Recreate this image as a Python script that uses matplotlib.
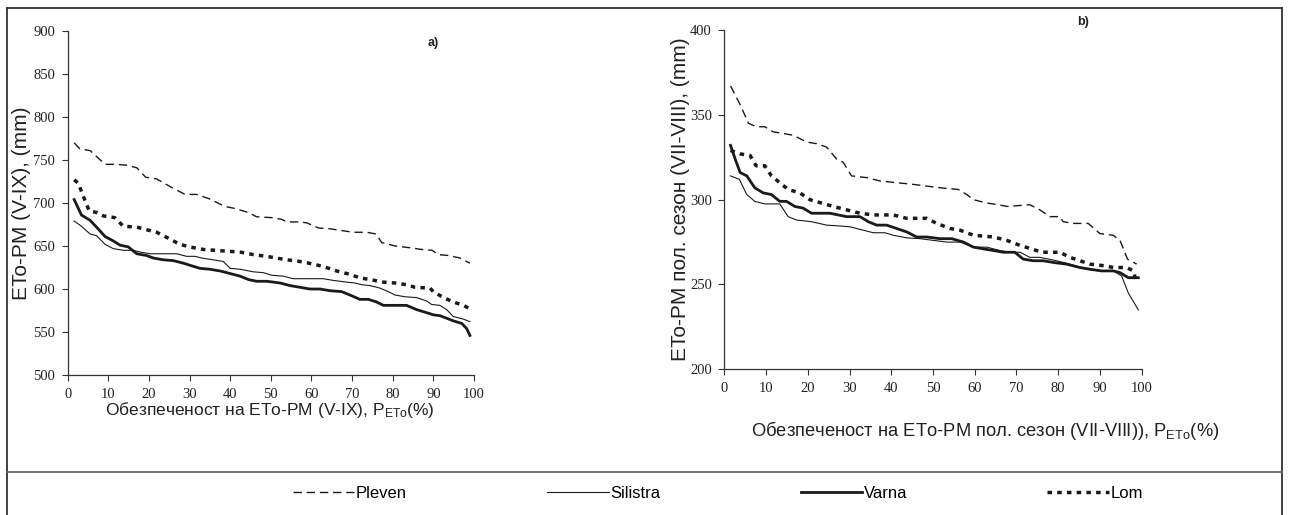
import matplotlib
matplotlib.use("Agg")
import matplotlib.pyplot as plt
from matplotlib.lines import Line2D

# ---- data (x = P_ETo %, y = ETo-PM mm) ----
# panel a) V-IX
a_pleven_x = [1.6, 3, 5.5, 9.2, 11.6, 14.5, 17, 19.2, 21.9, 26, 28.9, 31.7, 34.8, 38.7, 40.8, 44.5,
              46.5, 50.2, 52.7, 53.9, 57.2, 58.8, 61.7, 64.6, 67.4, 70.3, 73.6, 75.9, 77.3, 80.6,
              84.2, 87.1, 89.7, 91.2, 93.7, 96.6, 99]
a_pleven_y = [770, 763, 761, 745, 745, 744, 741, 730, 728, 717, 710, 710, 705, 696, 694, 689,
              684, 683, 681, 678, 678, 677, 671, 670, 668, 666, 666, 664, 654, 650,
              648, 646, 645, 640, 639, 636, 630]

a_silistra_x = [1.6, 3.4, 5.5, 7.1, 9.2, 11.2, 13.7, 16.2, 17.8, 20.3, 23.5, 26.8, 29.3, 31.3, 33,
                35.8, 38.3, 40, 42.4, 45.7, 48.2, 50.2, 53, 55.5, 58.8, 62.9, 65.4, 68.7, 70.7,
                72.4, 74.4, 76.9, 78.9, 80.6, 83, 85.9, 88.4, 89.6, 91.6, 93.3, 94.9, 97.4, 99]
a_silistra_y = [679, 673, 664, 662, 652, 647, 645, 645, 643, 641, 641, 641, 638, 638, 636,
                634, 632, 624, 623, 620, 619, 616, 615, 612, 612, 612, 610, 608, 607,
                605, 604, 601, 597, 593, 591, 590, 586, 582, 581, 576, 568, 565, 562]

a_varna_x = [1.6, 3.4, 5.5, 7.5, 9.2, 11.2, 12.9, 14.9, 17, 19.4, 21.1, 23.5, 26, 28.5, 30.5, 32.6,
             35, 37.5, 40, 42.4, 44.5, 46.5, 49, 52.3, 54.7, 57.2, 59.6, 62.1, 64.6, 67.4, 69.5,
             71.9, 74, 76, 77.7, 80.1, 83.4, 85.9, 88, 90, 91.6, 93.3, 94.9, 97, 98.2, 99]
a_varna_y = [704, 686, 680, 670, 661, 656, 651, 649, 641, 639, 636, 634, 633, 630, 627, 624,
             623, 621, 618, 615, 611, 609, 609, 607, 604, 602, 600, 600, 598, 597, 593,
             588, 588, 585, 581, 581, 581, 576, 573, 570, 569, 566, 563, 560, 554, 546]

a_lom_x = [1.6, 2.6, 4.5, 5.3, 7.1, 8.8, 11.6, 13.7, 17, 19.4, 21.9, 24.4, 27.6, 30, 33.4, 36.3,
           39.1, 42.4, 45.7, 49, 51.4, 53.9, 57.2, 60.5, 63, 66.2, 69.5, 71.9, 74.4, 77.7, 80.6,
           83.4, 85.5, 89.2, 90, 92.5, 94.9, 97.4, 98.6]
a_lom_y = [727, 723, 700, 691, 689, 685, 683, 673, 672, 669, 666, 660, 652, 649, 646, 645,
           644, 643, 640, 638, 636, 634, 632, 629, 626, 621, 617, 613, 611, 608, 607,
           605, 602, 601, 597, 590, 585, 581, 578]

# panel b) VII-VIII
b_pleven_x = [1.5, 3.8, 5.8, 7.7, 9.7, 11.7, 14.1, 16.5, 19.7, 22.1, 24.5, 26.9, 28.5, 30.5, 34.1,
              37.3, 41.3, 45.3, 48.5, 51.7, 56.1, 58.1, 59.7, 62.9, 65.7, 67.7, 73.2, 75.6, 78,
              80.4, 81.2, 83.6, 87.2, 90, 93.2, 94.8, 96.6, 98.8]
b_pleven_y = [367, 356, 345, 343, 343, 340, 339, 338, 334, 333, 331, 324, 322, 314, 313,
              311, 310, 309, 308, 307, 306, 303, 300, 298, 297, 296, 297, 294, 290,
              290, 287, 286, 286, 280, 279, 276, 265, 262]

b_silistra_x = [1.5, 3.6, 5.4, 7.3, 9.7, 13.3, 15.3, 17.3, 20.9, 24.5, 27.7, 30.1, 32.5, 35.7, 38.5,
                40.5, 43.7, 46.9, 50.1, 53.3, 56.5, 59.7, 62.9, 66.1, 68.5, 70.9, 73.2, 75.6,
                79.6, 82.8, 86.8, 90, 93.2, 95.2, 96.8, 99.2]
b_silistra_y = [314, 312, 303, 299, 297.5, 297.5, 290, 288, 287, 285, 284.5, 284, 282.5, 280.5,
                280.5, 279, 277.5, 277, 276, 275, 275, 272, 272, 270, 269, 269, 266, 266,
                264, 262, 259, 258, 258, 255, 245, 235]

b_varna_x = [1.5, 2.6, 3.8, 5.4, 7.3, 9.3, 11.3, 13.3, 14.9, 16.9, 18.9, 20.9, 25.3, 29.3, 32.5,
             34.5, 36.5, 38.9, 41.3, 43.7, 46.1, 48.5, 51.7, 54.5, 57.3, 59.7, 62.1, 64.5, 66.9,
             69.6, 71.6, 74, 76.4, 78.8, 82, 85.2, 87.6, 90.4, 93.2, 94.8, 96.8, 99.2]
b_varna_y = [332, 324, 316, 314, 307, 304, 303, 299, 299, 296, 295, 292, 292, 290, 290,
             287, 285, 285, 283, 281, 278, 278, 277, 277, 275, 272, 271, 270, 269,
             269, 265, 264, 264, 263, 262, 260, 259, 258, 258, 257, 254, 254]

b_lom_x = [1.5, 3.8, 6.2, 7.6, 9.7, 11.3, 13.3, 15.3, 18.1, 20.5, 23.3, 26.1, 29.3, 32.5, 35.7,
           40.5, 43.7, 48.5, 50.9, 54.1, 56.5, 59.7, 64.5, 67.7, 70.9, 73.6, 76, 80.4, 82.8,
           87.6, 91.2, 93.2, 96.4, 98, 98.8]
b_lom_y = [329, 327, 326, 320, 320, 314, 310, 306, 304, 300, 298, 296, 294, 292, 291,
           291, 289, 289, 286, 283, 282, 279, 278, 276, 273, 271, 269, 269, 266,
           262, 261, 260, 260, 258, 251]

x_ticks = list(range(0, 101, 10))
a_yticks = list(range(500, 901, 50))
b_yticks = list(range(200, 401, 50))
station_names = ["Pleven", "Silistra", "Varna", "Lom"]

plt.rcParams["mathtext.fontset"] = "custom"
plt.rcParams["mathtext.rm"] = "Liberation Sans"
plt.rcParams["mathtext.it"] = "Liberation Sans"

ink = "#1a1a1a"
sans = ["Liberation Sans", "DejaVu Sans"]
styles = {
    "Pleven": dict(color=ink, lw=1.0, linestyle=(0, (6, 3.5))),
    "Silistra": dict(color=ink, lw=0.8, linestyle="-"),
    "Varna": dict(color=ink, lw=2.0, linestyle="-"),
    "Lom": dict(color=ink, lw=2.5, linestyle=(0, (1.3, 1.5))),
}

fig = plt.figure(figsize=(12.89, 5.15), dpi=100)
ax_a = fig.add_axes([0.0525, 0.2718, 0.3152, 0.668])
ax_b = fig.add_axes([0.5619, 0.2829, 0.3238, 0.6588])

panels = [
    (ax_a, [(a_pleven_x, a_pleven_y), (a_silistra_x, a_silistra_y), (a_varna_x, a_varna_y), (a_lom_x, a_lom_y)],
     a_yticks, "ETo-PM (V-IX), (mm)",
     "Обезпеченост на ETo-PM (V-IX), P$_{\\mathrm{ETo}}$(%)",
     (-0.114, 0.5), (0.498, -0.102), 12.5),
    (ax_b, [(b_pleven_x, b_pleven_y), (b_silistra_x, b_silistra_y), (b_varna_x, b_varna_y), (b_lom_x, b_lom_y)],
     b_yticks, "ETo-PM пол. сезон (VII-VIII), (mm)",
     "Обезпеченост на ETo-PM пол. сезон (VII-VIII)), P$_{\\mathrm{ETo}}$(%)",
     (-0.104, 0.5), (0.626, -0.179), 13.2),
]

for ax, series, yt, ylab, xlab, ypos, xpos, xfs in panels:
    for name, (xs, ys) in zip(station_names, series):
        ax.plot(xs, ys, label=name, **styles[name])
    ax.set_xlim(0, 100)
    ax.set_ylim(yt[0], yt[-1])
    ax.set_xticks(x_ticks)
    ax.set_yticks(yt)
    for s in ["top", "right"]:
        ax.spines[s].set_visible(False)
    for s in ["left", "bottom"]:
        ax.spines[s].set_color("#333333")
        ax.spines[s].set_linewidth(0.9)
    ax.tick_params(direction="out", length=4, width=0.8, color="#333333",
                   labelcolor="#222222", labelsize=10.5, pad=5)
    for lbl in ax.get_xticklabels() + ax.get_yticklabels():
        lbl.set_family("Liberation Serif")
    ax.set_ylabel(ylab, family=sans, fontsize=15, color="#222222")
    ax.set_xlabel(xlab, family=sans, fontsize=xfs, color="#222222")
    ax.yaxis.set_label_coords(*ypos)
    ax.xaxis.set_label_coords(*xpos)
    ax.xaxis.label.set_va("center")
    ax.yaxis.label.set_va("center")

ax_a.text(0.885, 0.955, "a)", transform=ax_a.transAxes, fontsize=9, fontweight="bold",
          family=sans, color="#222222")
ax_b.text(0.845, 1.015, "b)", transform=ax_b.transAxes, fontsize=9, fontweight="bold",
          family=sans, color="#222222")

# outer frame and separator above the legend
W, H = 1289, 515
frame = dict(color="#333333", lw=1.3, transform=fig.transFigure)
fig.add_artist(Line2D([7 / W, 7 / W], [0, 1 - 8 / H], **frame))
fig.add_artist(Line2D([1282 / W, 1282 / W], [0, 1 - 8 / H], **frame))
fig.add_artist(Line2D([7 / W, 1282 / W], [1 - 8 / H, 1 - 8 / H], **frame))
fig.add_artist(Line2D([7 / W, 1282 / W], [1 - 471.5 / H, 1 - 471.5 / H], color="#666666",
                      lw=1.3, transform=fig.transFigure))

handles, labels = ax_a.get_legend_handles_labels()
fig.legend(handles, labels, loc="center", bbox_to_anchor=(0.557, 1 - 493 / H), ncol=4,
           frameon=False, handlelength=3.7, handletextpad=0.1, columnspacing=8.4,
           prop={"family": sans, "size": 12})

fig.savefig("out.png", dpi=100)
